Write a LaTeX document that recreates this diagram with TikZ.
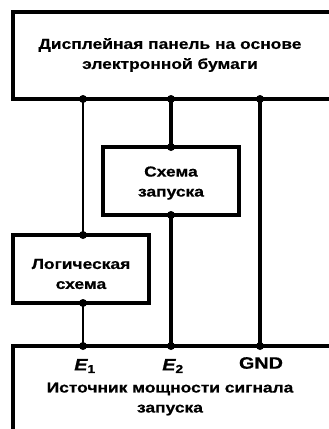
\documentclass[tikz,border=0pt]{standalone}
\usepackage{fontspec}
\setmainfont{Liberation Sans}[FakeStretch=1.2,BoldFeatures={FakeStretch=1.2,FakeBold=0.6},BoldItalicFeatures={FakeStretch=1.2,FakeBold=0.6}]
\begin{document}
\begin{tikzpicture}[x=1pt,y=-1pt,
  frame/.style={line width=3.5pt},
  thinwire/.style={line width=2.8pt},
  thickwire/.style={line width=4.5pt},
  dot/.style={circle,fill=black,inner sep=0pt,minimum size=8pt},
  lbl/.style={font=\bfseries\fontsize{14.5}{20}\selectfont,align=center,inner sep=0pt},
  pin/.style={font=\bfseries\fontsize{16.5}{20}\selectfont,inner sep=0pt}]
\useasboundingbox (0,0) rectangle (329,429);
% top box (open at right)
\draw[frame] (331,12) -- (13,12) -- (13,99) -- (331,99);
\node[lbl] (top) at (170,55) {Дисплейная панель на основе\\электронной бумаги};
% schema box
\draw[frame] (103,147) rectangle (239,215);
\node[lbl] (sch) at (171,183) {Схема\\запуска};
% logic box
\draw[frame] (13,235) rectangle (149,303);
\node[lbl] (log) at (81,274) {Логическая\\схема};
% bottom box (open at right and bottom)
\draw[frame] (331,346) -- (13,346) -- (13,431);
\node[lbl] (src) at (170,399) {Источник мощности сигнала\\запуска};
\node[pin] (e1) at (85,366) {\itshape E\textsubscript{\upshape 1}};
\node[pin] (e2) at (173,366) {\itshape E\textsubscript{\upshape 2}};
\node[pin] (gnd) at (261,363) {GND};
% junction coordinates
\coordinate (t1) at (83,99);
\coordinate (t2) at (171,99);
\coordinate (t3) at (260,99);
\coordinate (l1) at (83,235);
\coordinate (l2) at (83,303);
\coordinate (s1) at (171,147);
\coordinate (s2) at (171,215);
\coordinate (b1) at (83,346);
\coordinate (b2) at (171,346);
\coordinate (b3) at (260,346);
% wires
\draw[thinwire] (t1) -- (l1);
\draw[thinwire] (l2) -- (b1);
\draw[thickwire] (t2) -- (s1);
\draw[thickwire] (s2) -- (b2);
\draw[thickwire] (t3) -- (b3);
% dots
\foreach \p in {t1,t2,t3,l1,l2,s1,s2,b1,b2,b3} \node[dot] at (\p) {};
\end{tikzpicture}
\end{document}
